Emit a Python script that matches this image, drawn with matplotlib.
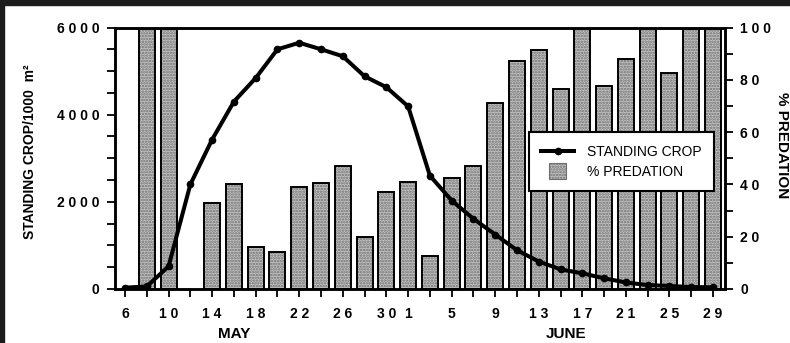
import numpy as np
import matplotlib
matplotlib.use('Agg')
import matplotlib.pyplot as plt
import matplotlib.dates as mdates
from matplotlib.lines import Line2D
from matplotlib.patches import Rectangle
from matplotlib.legend_handler import HandlerPatch
from matplotlib.ticker import MultipleLocator, FuncFormatter

plt.rcParams['font.family'] = ['Liberation Sans', 'DejaVu Sans']
plt.rcParams['hatch.linewidth'] = 1.2

# sampling dates, every second day from 6 May to 29 June
dates = np.arange('2000-05-06', '2000-06-30', 2, dtype='datetime64[D]')

# standing crop per 1000 m^2
crop = [30, 60, 520, 2400, 3430, 4300, 4840, 5500, 5650, 5500, 5340, 4880, 4630, 4190,
        2600, 2030, 1610, 1250, 890, 630, 450, 360, 245, 150, 90, 70, 45, 40]

# % predation (nan = no sample)
predation = [np.nan, 100, 100, np.nan, 33, 40, 16, 14, 39, 40.5, 47, 20, 37, 41,
             12.5, 42.5, 47, 71, 87, 91.5, 76.5, 100, 77.5, 88, 100, 82.5, 100, 100]

day_labels = ['6', '', '10', '', '14', '', '18', '', '22', '', '26', '', '30', '1',
              '', '5', '', '9', '', '13', '', '17', '', '21', '', '25', '', '29']

x = mdates.date2num(dates.astype('datetime64[s]').astype(object))

BAR_FACE = '#c4c4c4'
BAR_DOTS = '#6e6e6e'


def spaced(v, pos=None):
    return ' '.join(f'{v:.0f}')


def square_patch(legend, orig_handle, xdescent, ydescent, width, height, fontsize):
    side = 12
    return Rectangle((width / 2 - side / 2 - xdescent, height / 2 - side / 2 - ydescent), side, side)


fig = plt.figure(figsize=(7.9, 3.43), dpi=100)
ax = fig.add_axes([115 / 790, 54 / 343, 610 / 790, 261.5 / 343])
ax2 = ax.twinx()

# bars: stippled grey fill, then black outline on top
pred = np.array(predation)
ax2.bar(x, pred, width=1.47, color=BAR_FACE, edgecolor=BAR_DOTS, hatch='......', lw=0)
ax2.bar(x, pred, width=1.47, fill=False, edgecolor='black', lw=1.4)
ax2.set_ylim(0, 100)

ax.plot(x, crop, color='black', lw=2.9, marker='o', ms=4.5, zorder=5)
ax.set_ylim(0, 6000)
ax.set_xlim(x[0] - 0.92, x[-1] + 1.1)

# crop axis drawn above the bar axis
ax.set_zorder(ax2.get_zorder() + 1)
ax.patch.set_visible(False)

ax.set_xticks(x)
ax.set_xticklabels([' '.join(s) for s in day_labels])

ax.yaxis.set_major_locator(MultipleLocator(2000))
ax.yaxis.set_minor_locator(MultipleLocator(500))
ax.yaxis.set_major_formatter(FuncFormatter(spaced))
ax2.yaxis.set_major_locator(MultipleLocator(20))
ax2.yaxis.set_minor_locator(MultipleLocator(10))
ax2.yaxis.set_major_formatter(FuncFormatter(spaced))

for a in (ax, ax2):
    a.tick_params(which='both', direction='out', length=6, width=1.3, colors='black')
    a.tick_params(which='major', labelsize=10, pad=5)
    for lab in a.get_xticklabels() + a.get_yticklabels():
        lab.set_fontweight('bold')
    for s in a.spines.values():
        s.set_linewidth(1.8)
ax.tick_params(axis='x', pad=7)

ax.text(x[5], -0.172, 'MAY', transform=ax.get_xaxis_transform(), ha='center', va='center',
        fontsize=11, fontweight='bold')
ax.text(x[20] + 0.5, -0.172, 'JUNE', transform=ax.get_xaxis_transform(), ha='center', va='center',
        fontsize=11, fontweight='bold')

fig.text(30 / 790, 1 - 152 / 343, 'STANDING CROP/1000  m²', rotation=90, ha='center', va='center',
         fontsize=10, fontweight='bold')
fig.text(782 / 790, 1 - 145 / 343, '% PREDATION', rotation=270, ha='center', va='center',
         fontsize=11, fontweight='bold')

handles = [Line2D([], [], color='black', lw=2.9, marker='o', ms=4.5),
           Rectangle((0, 0), 1, 1, facecolor=BAR_FACE, edgecolor=BAR_DOTS, hatch='......', lw=0.8)]
leg = ax.legend(handles, ['STANDING CROP', '% PREDATION'], loc='upper right',
                bbox_to_anchor=(0.982, 0.600), fancybox=False, framealpha=1,
                edgecolor='black', fontsize=10, handlelength=2.4, handletextpad=0.9,
                borderpad=0.9, labelspacing=0.45, borderaxespad=0,
                handler_map={Rectangle: HandlerPatch(patch_func=square_patch)})
leg.get_frame().set_linewidth(1.5)

# dark strips along the top and left edges
fig.patches.append(Rectangle((0, 1 - 5 / 343), 1, 5 / 343, transform=fig.transFigure,
                             color='#1c1c1c', zorder=10))
fig.patches.append(Rectangle((0, 0), 4 / 790, 1, transform=fig.transFigure,
                             color='#1c1c1c', zorder=10))

fig.savefig('out.png', dpi=100)
